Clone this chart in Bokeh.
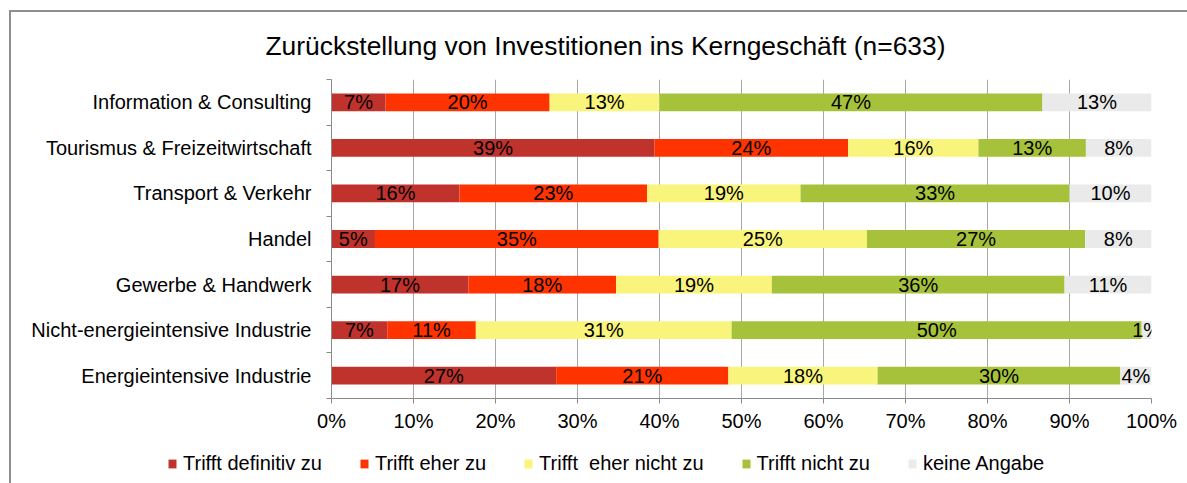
from bokeh.plotting import figure
from bokeh.models import ColumnDataSource, FixedTicker, Legend, LegendItem, Title, Range1d
from bokeh.core.properties import value
from bokeh.embed import file_html
from bokeh.resources import INLINE

title_text = "Zurückstellung von Investitionen ins Kerngeschäft (n=633)"
categories = [
    "Information & Consulting",
    "Tourismus & Freizeitwirtschaft",
    "Transport & Verkehr",
    "Handel",
    "Gewerbe & Handwerk",
    "Nicht-energieintensive Industrie",
    "Energieintensive Industrie",
]
series_names = ["Trifft definitiv zu", "Trifft eher zu", "Trifft  eher nicht zu", "Trifft nicht zu", "keine Angabe"]
definitiv = [6.6, 39.4, 15.6, 5.3, 16.7, 6.8, 27.4]
eher = [20.0, 23.6, 22.9, 34.6, 18.0, 10.8, 21.0]
eher_nicht = [13.4, 15.9, 18.7, 25.4, 19.0, 31.2, 18.2]
nicht = [46.7, 13.1, 32.8, 26.6, 35.7, 50.0, 29.6]
keine = [13.3, 8.0, 10.0, 8.1, 10.6, 1.2, 3.8]
x_ticks = [0, 10, 20, 30, 40, 50, 60, 70, 80, 90, 100]
x_tick_labels = ["0%", "10%", "20%", "30%", "40%", "50%", "60%", "70%", "80%", "90%", "100%"]
colors = ["#C0332D", "#FF3300", "#F8F47C", "#A6C23B", "#EAEAEA"]

FONT = "Liberation Sans"
n = len(categories)
ypos = [n - i - 0.5 for i in range(n)]
keys = ["s0", "s1", "s2", "s3", "s4"]
series = [definitiv, eher, eher_nicht, nicht, keine]
data = {"y": ypos}
for k, s in zip(keys, series):
    data[k] = s
src = ColumnDataSource(data)

p = figure(frame_width=820, frame_height=319,
           x_range=Range1d(0, 100), y_range=Range1d(0, n),
           output_backend="svg", toolbar_location=None,
           min_border_left=320, min_border_top=67, min_border_right=36, min_border_bottom=40,
           styles={"margin-left": "9px", "margin-top": "10px",
                   "border-left": "2px solid #8f8f8f", "border-top": "2px solid #8f8f8f"})
p.outline_line_color = None
p.background_fill_color = "white"
p.border_fill_color = "white"

renderers = p.hbar_stack(keys, y="y", height=0.39, color=colors, line_width=0, source=src)

# segment labels
lx, ly, lt = [], [], []
for i in range(n):
    start = 0.0
    for s in series:
        v = s[i]
        lx.append(start + v / 2.0)
        ly.append(ypos[i])
        lt.append(f"{int(v + 0.5)}%")
        start += v
p.text(x=lx, y=ly, text=lt, text_align="center", text_baseline="middle",
       text_font=value(FONT), text_font_size="20px", text_color="black")

# x axis
p.xaxis.ticker = FixedTicker(ticks=x_ticks)
p.xaxis.major_label_overrides = {t: l for t, l in zip(x_ticks, x_tick_labels)}
p.xaxis.major_tick_out = 5
p.xaxis.major_tick_in = 0
p.xaxis.minor_tick_out = 0
p.xaxis.minor_tick_in = 0
p.xaxis.axis_line_color = "#8a8a8a"
p.xaxis.major_tick_line_color = "#8a8a8a"
p.xaxis.major_label_text_font = FONT
p.xaxis.major_label_text_font_size = "20px"
p.xaxis.major_label_text_color = "black"
p.xaxis.major_label_standoff = 6

# y axis
p.yaxis.ticker = FixedTicker(ticks=ypos, minor_ticks=list(range(n + 1)))
p.yaxis.major_label_overrides = {y: c for y, c in zip(ypos, categories)}
p.yaxis.major_tick_out = 0
p.yaxis.major_tick_in = 0
p.yaxis.minor_tick_out = 5
p.yaxis.minor_tick_in = 0
p.yaxis.minor_tick_line_color = "#8a8a8a"
p.yaxis.axis_line_color = "#8a8a8a"
p.yaxis.major_label_text_font = FONT
p.yaxis.major_label_text_font_size = "20px"
p.yaxis.major_label_text_color = "black"
p.yaxis.major_label_standoff = 15

p.xgrid.ticker = FixedTicker(ticks=x_ticks)
p.xgrid.grid_line_color = "#a8a8a8"
p.ygrid.visible = False

p.add_layout(Title(text=title_text, align="left", offset=-66, standoff=34, vertical_align="top",
                   text_font=FONT, text_font_size="26.4px", text_font_style="normal",
                   text_color="black"), "above")

# legend strip below the chart (separate root, so no frame alignment / clipping)
lf = figure(width=1176, height=45, x_range=Range1d(0, 100), y_range=Range1d(100, 200),
            output_backend="svg", toolbar_location=None,
            x_axis_type=None, y_axis_type=None, min_border=0,
            styles={"margin-left": "9px", "border-left": "2px solid #8f8f8f"})
lf.outline_line_color = None
lf.grid.visible = False
lf.background_fill_color = "white"
lf.border_fill_color = "white"
lsrc = ColumnDataSource(data)
dummy = lf.hbar_stack(keys, y="y", height=0.39, color=colors, line_width=0, source=lsrc)
legend = Legend(items=[LegendItem(label=nm, renderers=[r]) for nm, r in zip(series_names, dummy)],
                orientation="horizontal", location=(156, 8), padding=0, margin=0, spacing=37,
                glyph_width=10, glyph_height=11, label_standoff=6,
                label_text_font=FONT, label_text_font_size="20px", label_text_color="black",
                border_line_alpha=0, background_fill_alpha=0)
lf.add_layout(legend)

open("out.html", "w").write(file_html([p, lf], INLINE))
